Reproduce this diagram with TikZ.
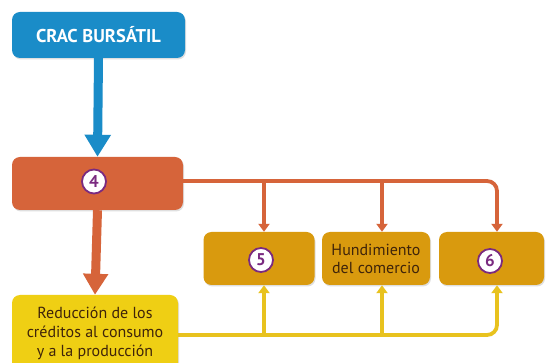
\documentclass[tikz,border=0pt]{standalone}
\usepackage{fontspec}
\setmainfont{PT Sans}
\usetikzlibrary{arrows.meta,shadows}
\definecolor{cblue}{HTML}{1A8CC8}
\definecolor{corange}{HTML}{D6643A}
\definecolor{cmust}{HTML}{D99A0E}
\definecolor{cyel}{HTML}{EFCF14}
\definecolor{cyline}{HTML}{E8C21E}
\definecolor{cpurple}{HTML}{7A2A80}
\definecolor{ctext}{HTML}{3F240A}
\tikzset{
  box/.style={rounded corners=8pt, minimum height=53pt, align=center, inner sep=2pt,
    drop shadow={shadow xshift=1pt, shadow yshift=-1.5pt, opacity=0.25}},
  num/.style={circle, draw=cpurple, line width=1.8pt, fill=white, text=cpurple,
    font=\bfseries\fontsize{17}{17}\selectfont, minimum size=24pt, inner sep=0pt},
  oline/.style={draw=corange, line width=3.8pt, rounded corners=10pt},
  yline/.style={draw=cyline, line width=3.8pt, rounded corners=10pt},
  otip/.style={-{Triangle[width=11pt,length=8pt]}},
  btxt/.style={font=\fontsize{16}{18}\selectfont, text=ctext}
}
\begin{document}
\begin{tikzpicture}[x=1pt,y=-1pt]
\useasboundingbox (0,0) rectangle (547,363);
\fill[white] (0,0) rectangle (547,363);
% boxes
\node[box, fill=cblue, minimum width=173pt, minimum height=46pt, text=white,
  font=\bfseries\fontsize{18.5}{18.5}\selectfont] (crac) at (98.5,35) {CRAC BURSÁTIL};
\node[box, fill=corange, minimum width=171pt] (n4) at (97.5,183.5) {};
\node[num] (c4) at (94,181.5) {4};
\node[box, fill=cmust, minimum width=111pt] (n5) at (259,258.5) {};
\node[num] (c5) at (261,260) {5};
\node[box, fill=cmust, minimum width=108pt, btxt] (hund) at (376,258.5) {Hundimiento\\del comercio};
\node[box, fill=cmust, minimum width=105pt] (n6) at (491.5,258.5) {};
\node[num] (c6) at (490,261) {6};
\node[box, fill=cyel, minimum width=166pt, minimum height=76pt, btxt,
  font=\fontsize{16}{19}\selectfont] (red) at (95,333) {Reducción de los\\créditos al consumo\\y a la producción};
% coordinates
\coordinate (x5) at (264,0);
\coordinate (xh) at (382,0);
\coordinate (x6) at (497,0);
% blue arrow
\draw[draw=cblue, line width=9pt, -{Triangle[width=25pt,length=22pt]}] (crac.south) -- (n4.north);
% orange down arrow
\draw[draw=corange, line width=9pt, -{Triangle[width=24pt,length=21pt]}] (n4.south) -- (red.north);
% orange branches
\draw[oline, otip] (n4.east |- 0,181) -- (x6 |- 0,181) -- (x6 |- n6.north);
\draw[oline, otip] (x5 |- 0,181) -- (x5 |- n5.north);
\draw[oline, otip] (xh |- 0,181) -- (xh |- hund.north);
% yellow branches
\draw[yline, otip] (red.east |- 0,335) -- (x6 |- 0,335) -- (x6 |- n6.south);
\draw[yline, otip] (x5 |- 0,335) -- (x5 |- n5.south);
\draw[yline, otip] (xh |- 0,335) -- (xh |- hund.south);
\end{tikzpicture}
\end{document}
